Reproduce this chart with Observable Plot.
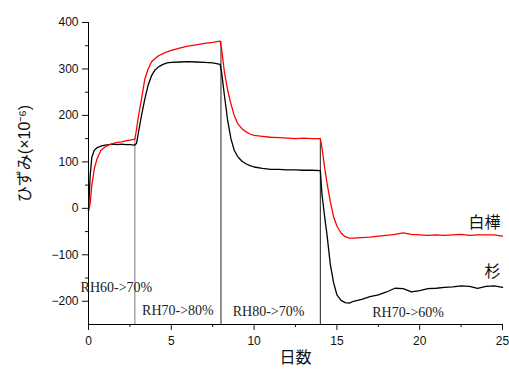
<!DOCTYPE html>
<html><head><meta charset="utf-8">
<script src="https://cdn.jsdelivr.net/npm/d3@7"></script>
<script src="https://cdn.jsdelivr.net/npm/@observablehq/plot@0.6"></script>
<style>body{margin:0;background:#fff}</style>
</head><body><div id="chart"></div>
<script>
const days = [0,0.1,0.2,0.35,0.5,0.75,1,1.25,1.5,1.75,2,2.25,2.5,2.8,
  2.9,3.0,3.2,3.4,3.6,3.8,4.0,4.25,4.5,4.75,5,5.5,6,6.5,7,7.5,7.95,
  8.05,8.2,8.4,8.6,8.8,9.0,9.25,9.5,9.75,10,10.5,11,11.5,12,12.5,13,13.5,14.0,
  14.1,14.25,14.4,14.6,14.8,15,15.25,15.5,15.75,16,16.5,17,17.5,18,18.5,19,19.5,20,20.5,21,21.5,22,22.5,23,23.5,24,24.5,25];
const shirakaba = [-5,10,50,85,105,125,132,137,140,142,143,145,147,149,
  170,195,235,278,300,315,322,329,333,337,340,345,349,352,355,357,360,
  340,295,255,225,200,183,172,165,160,157,155,153,152,151,150,151,150,150,
  130,90,55,15,-18,-38,-53,-61,-64,-64,-63,-62,-60,-58,-56,-53,-56,-57,-58,-57,-58,-57,-56,-58,-57,-57,-57,-60];
const sugi = [-5,70,110,125,130,134,136,137,138,137,138,137,137,136,
  140,160,200,235,265,285,297,305,310,313,314,315,316,315,314,313,310,
  290,245,190,150,125,112,102,96,92,89,86,84,84,83,83,82,82,81,
  30,-15,-56,-120,-160,-186,-198,-203,-204,-200,-196,-190,-186,-180,-172,-173,-180,-177,-173,-172,-170,-169,-167,-168,-172,-168,-167,-170];
const seriesNames = ["白樺", "杉"];
const dividerDays = [2.8, 8, 14];
const dividerTops = [150, 359, 150];
const rhLabels = ["RH60->70%", "RH70->80%", "RH80->70%", "RH70->60%"];
const rhLabelDays = [-0.48, 5.4, 10.87, 19.3];
const rhLabelValues = [-171, -219, -221, -224];
const nameLabelDays = [24.88, 24.88];
const nameLabelValues = [-32, -137];
const xTicks = [0, 5, 10, 15, 20, 25];
const xMinor = [2.5, 7.5, 12.5, 17.5, 22.5];
const yTicks = [-200, -100, 0, 100, 200, 300, 400];
const yMinor = [-150, -50, 50, 150, 250, 350];

const red = days.map((d, i) => ({day: d, v: shirakaba[i]}));
const black = days.map((d, i) => ({day: d, v: sugi[i]}));
const dividers = dividerDays.map((d, i) => ({day: d, top: dividerTops[i], c: i === 0 ? "#777" : "#222"}));
const rh = rhLabels.map((t, i) => ({t, day: rhLabelDays[i], v: rhLabelValues[i]}));
const names = seriesNames.map((t, i) => ({t, day: nameLabelDays[i], v: nameLabelValues[i]}));
const serif = "'Liberation Serif', 'Times New Roman', serif";
const cjk = "'Noto Sans CJK JP', sans-serif";
const mixed = "'Liberation Sans', Arial, 'Noto Sans CJK JP', sans-serif";

const chart = Plot.plot({
  width: 509, height: 372,
  marginLeft: 88, marginRight: 7, marginTop: 22, marginBottom: 48,
  style: {fontFamily: mixed, fontSize: "12px", background: "white", color: "#111"},
  x: {domain: [0, 25]},
  y: {domain: [-250, 400]},
  marks: [
    Plot.axisX({ticks: xTicks, tickSize: 6, tickPadding: 6, label: null, fontSize: 12}),
    Plot.axisX({ticks: xMinor, tickSize: 3, tickFormat: () => "", label: null}),
    Plot.axisY({ticks: yTicks, tickSize: 6, tickPadding: 4, label: null, fontSize: 12}),
    Plot.axisY({ticks: yMinor, tickSize: 3, tickFormat: () => "", label: null}),
    Plot.ruleX(dividers, {x: "day", y1: -250, y2: "top", stroke: "c", strokeWidth: 1}),
    Plot.line(black, {x: "day", y: "v", stroke: "#000", strokeWidth: 1.3}),
    Plot.line(red, {x: "day", y: "v", stroke: "#ff0000", strokeWidth: 1.3}),
    Plot.ruleX([0], {y1: -250, y2: 400, stroke: "#000"}),
    Plot.ruleY([-250], {stroke: "#000"}),
    Plot.text(rh.slice(0, 1), {x: "day", y: "v", text: "t", textAnchor: "start", fontFamily: serif, fontSize: 14, fill: "#222"}),
    Plot.text(rh.slice(1), {x: "day", y: "v", text: "t", textAnchor: "middle", fontFamily: serif, fontSize: 14, fill: "#222"}),
    Plot.text(names, {x: "day", y: "v", text: "t", textAnchor: "end", fontFamily: cjk, fontSize: 16, fill: "#111"}),
    Plot.text(["日数"], {frameAnchor: "bottom", dy: 38, fontFamily: cjk, fontSize: 16, fill: "#111"}),
    Plot.text(["ひずみ(×10⁻⁶)"], {frameAnchor: "left", textAnchor: "middle", dx: -64, dy: -20, rotate: -90, fontFamily: mixed, fontSize: 16, fill: "#111"})
  ]
});
document.getElementById("chart").appendChild(chart);
</script>
</body></html>
